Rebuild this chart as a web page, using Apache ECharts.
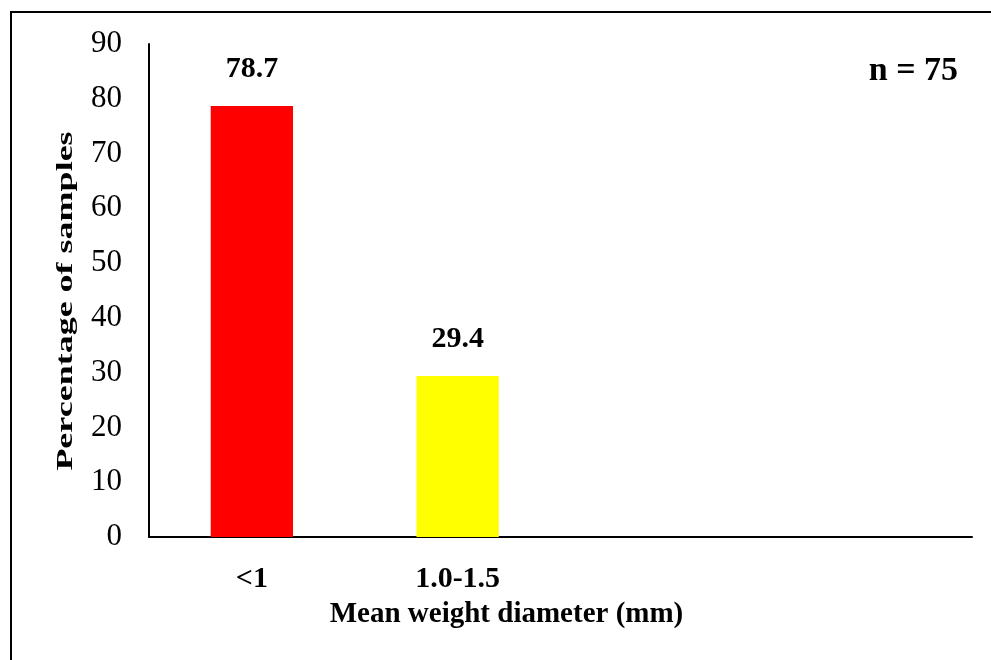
<!DOCTYPE html>
<html>
<head>
<meta charset="utf-8">
<script src="https://cdn.jsdelivr.net/npm/echarts@6/dist/echarts.min.js"></script>
<style>
  html, body { margin: 0; padding: 0; background: #fff; }
  #chart { width: 991px; height: 660px; }
</style>
</head>
<body>
<div id="chart"></div>
<script>
// Mean weight diameter classes and share of samples in each
const categories = ['<1', '1.0-1.5', '', ''];
const percentages = [78.7, 29.4, null, null];
const barColors = ['#ff0000', '#ffff00', '#ffffff', '#ffffff'];
const yTicks = { min: 0, max: 90, interval: 10 };
const sampleNote = 'n = 75';
const yTitle = 'Percentage of samples';
const xTitle = 'Mean weight diameter (mm)';

const serif = '"Liberation Serif", "Times New Roman", serif';

const chart = echarts.init(document.getElementById('chart'), null, { renderer: 'canvas' });

chart.setOption({
  animation: false,
  backgroundColor: '#ffffff',
  grid: { left: 149, right: 19, top: 44, bottom: 123 },
  graphic: [
    {
      type: 'rect',
      shape: { x: 11, y: 12, width: 1000, height: 700 },
      style: { fill: 'none', stroke: '#000', lineWidth: 2 },
      silent: true
    },
    {
      type: 'text',
      right: 33,
      top: 54,
      style: { text: sampleNote, font: 'bold 34px ' + serif, fill: '#000' }
    },
    {
      // vertical axis title, stretched along its length
      type: 'text',
      x: 66,
      y: 301,
      rotation: Math.PI / 2,
      scaleX: 1.5,
      scaleY: 1,
      style: {
        text: yTitle,
        font: 'bold 24px ' + serif,
        fill: '#000',
        align: 'center',
        verticalAlign: 'middle'
      }
    }
  ],
  xAxis: {
    type: 'category',
    data: categories,
    name: xTitle,
    nameLocation: 'middle',
    nameGap: 63,
    nameTextStyle: {
      fontFamily: serif, fontWeight: 'bold', fontSize: 29, color: '#000',
      padding: [0, 108, 0, 0]
    },
    axisLine: { lineStyle: { color: '#000', width: 2 } },
    axisTick: { show: false },
    axisLabel: { fontFamily: serif, fontWeight: 'bold', fontSize: 30, color: '#000', margin: 27 }
  },
  yAxis: {
    type: 'value',
    min: yTicks.min,
    max: yTicks.max,
    interval: yTicks.interval,
    axisLine: { show: true, lineStyle: { color: '#000', width: 2 } },
    axisTick: { show: false },
    splitLine: { show: false },
    axisLabel: { fontFamily: serif, fontSize: 31, color: '#000', margin: 27 }
  },
  series: [{
    type: 'bar',
    barWidth: '40%',
    data: percentages.map((v, i) => ({ value: v, itemStyle: { color: barColors[i] } })),
    label: {
      show: true,
      position: 'top',
      distance: 22,
      fontFamily: serif,
      fontWeight: 'bold',
      fontSize: 30,
      color: '#000',
      formatter: p => (p.value == null ? '' : p.value.toFixed(1))
    }
  }]
});
</script>
</body>
</html>
